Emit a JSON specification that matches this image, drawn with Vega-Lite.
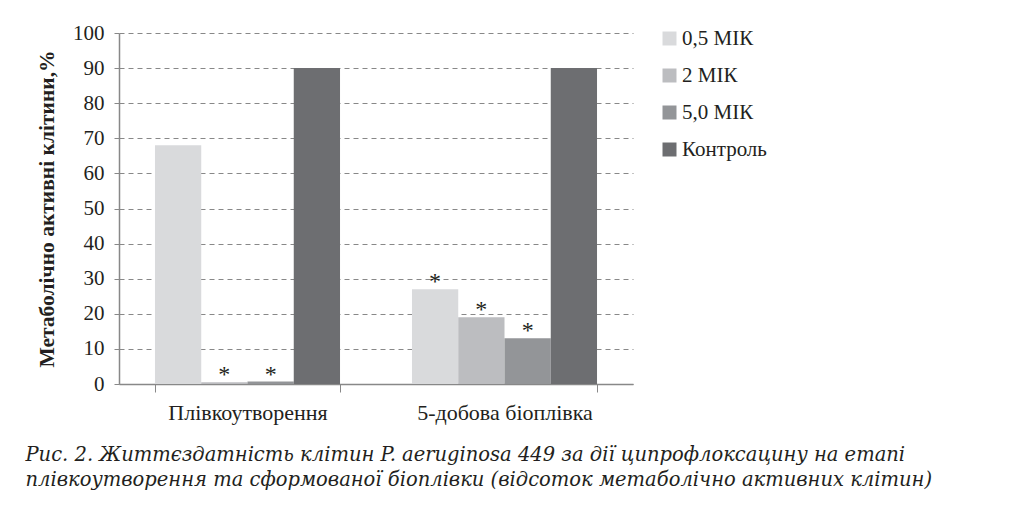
{
  "$schema": "https://vega.github.io/schema/vega-lite/v6.json",
  "width": 514,
  "height": 351,
  "padding": {"left": 25, "top": 22, "right": 5, "bottom": 5},
  "background": "white",
  "data": {
    "values": [
      {"group": "Плівкоутворення", "series": "0,5 МІК", "value": 68, "star": ""},
      {"group": "Плівкоутворення", "series": "2 МІК", "value": 0.5, "star": "*"},
      {"group": "Плівкоутворення", "series": "5,0 МІК", "value": 0.7, "star": "*"},
      {"group": "Плівкоутворення", "series": "Контроль", "value": 90, "star": ""},
      {"group": "5-добова біоплівка", "series": "0,5 МІК", "value": 27, "star": "*"},
      {"group": "5-добова біоплівка", "series": "2 МІК", "value": 19, "star": "*"},
      {"group": "5-добова біоплівка", "series": "5,0 МІК", "value": 13, "star": "*"},
      {"group": "5-добова біоплівка", "series": "Контроль", "value": 90, "star": ""}
    ]
  },
  "encoding": {
    "x": {
      "field": "group",
      "type": "nominal",
      "sort": ["Плівкоутворення", "5-добова біоплівка"],
      "scale": {"paddingInner": 0.28, "paddingOuter": 0.14},
      "axis": {
        "title": null,
        "labelAngle": 0,
        "tickBand": "extent",
        "tickSize": 8,
        "tickColor": "#888888",
        "domainColor": "#888888",
        "domainWidth": 1.5,
        "labelFont": "Liberation Serif",
        "labelFontSize": 22,
        "labelColor": "#231f20",
        "labelPadding": 10
      }
    },
    "xOffset": {
      "field": "series",
      "type": "nominal",
      "sort": ["0,5 МІК", "2 МІК", "5,0 МІК", "Контроль"],
      "scale": {"paddingInner": 0, "paddingOuter": 0}
    },
    "y": {
      "field": "value",
      "type": "quantitative",
      "scale": {"domain": [0, 100]},
      "axis": {
        "title": "Метаболічно активні клітини,%",
        "values": [0, 10, 20, 30, 40, 50, 60, 70, 80, 90, 100],
        "grid": true,
        "gridDash": [5, 4],
        "gridColor": "#888888",
        "domainColor": "#888888",
        "domainWidth": 1.5,
        "tickColor": "#888888",
        "tickSize": 5,
        "labelFont": "Liberation Serif",
        "labelFontSize": 21,
        "labelColor": "#231f20",
        "labelPadding": 10,
        "titleFont": "Liberation Serif",
        "titleFontSize": 21.5,
        "titleFontWeight": "bold",
        "titleColor": "#231f20",
        "titlePadding": 14
      }
    }
  },
  "layer": [
    {
      "mark": {"type": "bar"},
      "encoding": {
        "color": {
          "field": "series",
          "type": "nominal",
          "sort": ["0,5 МІК", "2 МІК", "5,0 МІК", "Контроль"],
          "scale": {
            "domain": ["0,5 МІК", "2 МІК", "5,0 МІК", "Контроль"],
            "range": ["#d9dadc", "#bcbdc0", "#939598", "#6d6e71"]
          },
          "legend": {
            "title": null,
            "orient": "none",
            "legendX": 540,
            "legendY": -5,
            "symbolType": "square",
            "symbolSize": 196,
            "symbolStrokeWidth": 0,
            "labelFont": "Liberation Serif",
            "labelFontSize": 21,
            "labelColor": "#231f20",
            "labelOffset": 2,
            "rowPadding": 15
          }
        }
      }
    },
    {
      "transform": [{"filter": "datum.star === '*'"}],
      "mark": {
        "type": "text",
        "baseline": "bottom",
        "dy": 5,
        "fontSize": 24,
        "font": "Liberation Serif",
        "color": "#231f20"
      },
      "encoding": {"text": {"field": "star"}}
    }
  ],
  "title": {
    "text": [
      "Рис. 2. Життєздатність клітин P. aeruginosa 449 за дії ципрофлоксацину на етапі",
      "плівкоутворення та сформованої біоплівки (відсоток метаболічно активних клітин)"
    ],
    "orient": "bottom",
    "anchor": "start",
    "frame": "bounds",
    "font": "DejaVu Serif",
    "fontStyle": "italic",
    "fontWeight": "normal",
    "fontSize": 19.5,
    "lineHeight": 25,
    "offset": 23,
    "dx": -11,
    "color": "#231f20"
  },
  "config": {
    "view": {"stroke": null},
    "font": "Liberation Serif",
    "legend": {"labelFont": "Liberation Serif"},
    "axis": {"labelFont": "Liberation Serif", "titleFont": "Liberation Serif"}
  }
}
